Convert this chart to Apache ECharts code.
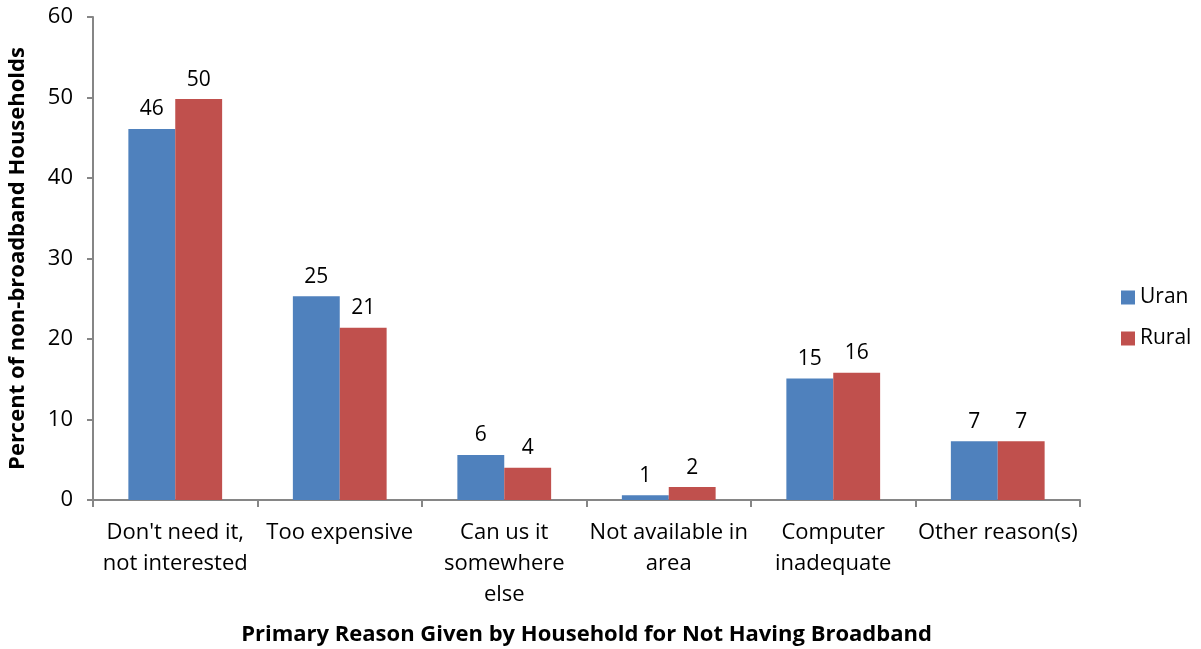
<!DOCTYPE html>
<html>
<head>
	<meta charset="utf-8">
	<title>broadband</title>
	<script src="https://cdn.jsdelivr.net/npm/echarts@6/dist/echarts.min.js"></script>
	<style>body{margin:0;background:#fff;}</style>
</head>
<body>
	<div id="main" style="width:1201px;height:649px;"></div>
	<script type="text/javascript">
		var reasons = ["Don't need it,\nnot interested", "Too expensive", "Can us it\nsomewhere\nelse", "Not available in\narea", "Computer\ninadequate", "Other reason(s)"];
		var urban = [46.1, 25.3, 5.6, 0.6, 15.1, 7.3];
		var rural = [49.8, 21.4, 4.0, 1.6, 15.8, 7.3];
		var yTicks = [0, 10, 20, 30, 40, 50, 60];

		var FONT = "'Open Sans', 'Liberation Sans', sans-serif";
		var axisGray = '#868686';

		var myChart = echarts.init(document.getElementById('main'));

		function barLabel() {
			return {
				show: true, position: 'top', distance: 9,
				color: '#000', fontFamily: FONT, fontSize: 21,
				formatter: function (p) { return Math.round(p.value); }
			};
		}

		var option = {
			animation: false,
			grid: { left: 93, right: 121, top: 17, bottom: 149, containLabel: false, outerBoundsMode: 'none' },
			legend: {
				orient: 'vertical', left: 1116, top: 282,
				itemWidth: 14, itemHeight: 14, itemGap: 20,
				icon: 'rect',
				textStyle: { fontFamily: FONT, fontSize: 21, color: '#000' },
				data: ['Uran', 'Rural']
			},
			xAxis: {
				type: 'category',
				data: reasons,
				name: 'Primary Reason Given by Household for Not Having Broadband',
				nameLocation: 'middle', nameGap: 124,
				nameTextStyle: { fontFamily: FONT, fontSize: 22, fontWeight: 'bold', color: '#000' },
				axisLine: { lineStyle: { color: axisGray, width: 2 } },
				axisTick: { show: true, length: 7, lineStyle: { color: axisGray, width: 2 } },
				axisLabel: { interval: 0, margin: 17, lineHeight: 31, fontFamily: FONT, fontSize: 22, color: '#000' }
			},
			yAxis: {
				type: 'value', min: 0, max: 60, interval: 10,
				name: 'Percent of non-broadband Households',
				nameLocation: 'middle', nameGap: 64, nameRotate: 90,
				nameTextStyle: { fontFamily: FONT, fontSize: 22, fontWeight: 'bold', color: '#000' },
				splitLine: { show: false },
				axisLine: { show: true, lineStyle: { color: axisGray, width: 2 } },
				axisTick: { show: true, length: 6, lineStyle: { color: axisGray, width: 2 } },
				axisLabel: {
					margin: 20, fontFamily: FONT, fontSize: 22, color: '#000',
					formatter: function (v) { return yTicks.indexOf(v) >= 0 ? v : ''; }
				}
			},
			series: [
				{ name: 'Uran', type: 'bar', data: urban, barGap: '0%', barCategoryGap: '43%',
				  itemStyle: { color: '#4F81BD' }, label: barLabel() },
				{ name: 'Rural', type: 'bar', data: rural,
				  itemStyle: { color: '#C0504D' }, label: barLabel() }
			]
		};

		myChart.setOption(option);
	</script>
</body>
</html>
